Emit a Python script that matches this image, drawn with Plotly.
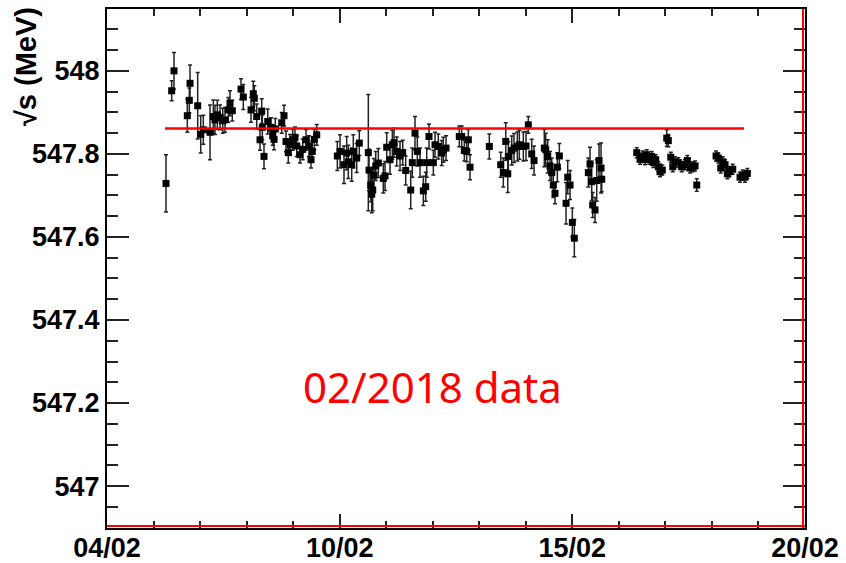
import plotly.graph_objects as go

# Run time axis (days from start of the scan) and centre-of-mass energy per run
day = [
    1.268, 1.390, 1.440, 1.726, 1.769, 1.784, 1.949, 2.014, 2.070, 2.214,
    2.285, 2.321, 2.371, 2.429, 2.487, 2.536, 2.607, 2.643, 2.693, 2.880,
    2.929, 3.095, 3.144, 3.166, 3.217, 3.288, 3.325, 3.374, 3.338, 3.454,
    3.525, 3.561, 3.589, 3.617, 3.755, 3.804, 3.847, 3.896, 3.933, 3.991,
    4.040, 4.077, 4.148, 4.206, 4.277, 4.341, 4.384, 4.412, 4.455, 4.507,
    4.950, 5.008, 5.093, 5.151, 5.186, 5.259, 5.293, 5.366, 5.422, 5.616,
    5.631, 5.667, 5.689, 5.710, 5.738, 5.775, 5.831, 5.938, 5.975, 6.011,
    6.082, 6.132, 6.168, 6.226, 6.297, 6.355, 6.419, 6.527, 6.561, 6.619,
    6.669, 6.727, 6.798, 6.849, 6.871, 6.920, 7.013, 7.049, 7.120, 7.193,
    7.228, 7.286, 7.571, 7.623, 7.679, 7.730, 7.765, 7.801, 8.216, 8.461,
    8.517, 8.569, 8.612, 8.625, 8.698, 8.747, 8.818, 8.861, 8.947, 9.005,
    9.054, 9.127, 9.177, 9.398, 9.428, 9.471, 9.521, 9.557, 9.592, 9.628,
    9.678, 9.721, 9.865, 9.901, 9.951, 10.000, 10.043, 10.344, 10.380, 10.417,
    10.438, 10.488, 10.524, 10.574, 10.617, 10.632,
    11.384, 11.455, 11.513, 11.563, 11.599, 11.655, 11.706, 11.741, 11.792, 11.848,
    11.885, 11.934, 12.029, 12.063, 12.115, 12.158, 12.207, 12.278, 12.351, 12.422,
    12.472, 12.530, 12.588, 12.637, 12.674, 13.089, 13.138, 13.189, 13.232, 13.282,
    13.331, 13.374, 13.447, 13.604, 13.662, 13.711, 13.761,
]

sqrt_s = [
    547.729, 547.952, 548.000, 547.892, 547.929, 547.970, 547.916, 547.847, 547.858, 547.852,
    547.890, 547.882, 547.894, 547.888, 547.880, 547.882, 547.906, 547.922, 547.904, 547.956,
    547.937, 547.906, 547.945, 547.934, 547.890, 547.834, 547.903, 547.794, 547.864, 547.878,
    547.862, 547.846, 547.835, 547.860, 547.875, 547.892, 547.830, 547.803, 547.822, 547.834,
    547.840, 547.819, 547.798, 547.811, 547.834, 547.819, 547.786, 547.806, 547.835, 547.846,
    547.795, 547.806, 547.774, 547.802, 547.781, 547.774, 547.806, 547.790, 547.826, 547.803,
    547.761, 547.725, 547.703, 547.713, 547.749, 547.771, 547.778, 547.741, 547.747, 547.816,
    547.786, 547.822, 547.827, 547.806, 547.795, 547.803, 547.760, 547.713, 547.779, 547.850,
    547.806, 547.779, 547.711, 547.721, 547.779, 547.842, 547.779, 547.822, 547.818, 547.802,
    547.810, 547.814, 547.842, 547.842, 547.808, 547.806, 547.834, 547.768, 547.818, 547.774,
    547.755, 547.830, 547.752, 547.794, 547.808, 547.814, 547.818, 547.822, 547.818, 547.819,
    547.870, 547.800, 547.784, 547.814, 547.810, 547.794, 547.771, 547.755, 547.725, 547.705,
    547.768, 547.795, 547.681, 547.744, 547.725, 547.635, 547.597, 547.755, 547.776, 547.733,
    547.677, 547.665, 547.736, 547.784, 547.766, 547.739,
    547.803, 547.787, 547.795, 547.786, 547.798, 547.787, 547.794, 547.779, 547.786, 547.769,
    547.757, 547.761, 547.838, 547.832, 547.792, 547.769, 547.781, 547.779, 547.769, 547.774,
    547.784, 547.766, 547.769, 547.771, 547.725, 547.795, 547.790, 547.766, 547.781, 547.774,
    547.752, 547.757, 547.763, 547.744, 547.749, 547.744, 547.753,
]

sqrt_s_err = [
    0.069, 0.024, 0.044, 0.040, 0.030, 0.044, 0.080, 0.045, 0.035, 0.066,
    0.040, 0.035, 0.035, 0.030, 0.030, 0.030, 0.030, 0.030, 0.025, 0.025,
    0.030, 0.030, 0.030, 0.030, 0.030, 0.025, 0.030, 0.030, 0.030, 0.030,
    0.025, 0.025, 0.025, 0.025, 0.025, 0.025, 0.025, 0.025, 0.025, 0.025,
    0.025, 0.025, 0.020, 0.025, 0.025, 0.025, 0.020, 0.025, 0.025, 0.025,
    0.035, 0.040, 0.045, 0.040, 0.040, 0.040, 0.040, 0.035, 0.030, 0.140,
    0.050, 0.040, 0.045, 0.050, 0.040, 0.035, 0.035, 0.035, 0.035, 0.035,
    0.035, 0.035, 0.035, 0.035, 0.035, 0.030, 0.035, 0.045, 0.035, 0.040,
    0.035, 0.035, 0.035, 0.035, 0.035, 0.030, 0.030, 0.030, 0.030, 0.030,
    0.030, 0.030, 0.025, 0.025, 0.025, 0.025, 0.025, 0.030, 0.030, 0.030,
    0.035, 0.045, 0.045, 0.035, 0.035, 0.035, 0.035, 0.035, 0.035, 0.035,
    0.020, 0.035, 0.035, 0.045, 0.040, 0.040, 0.035, 0.035, 0.030, 0.025,
    0.035, 0.030, 0.050, 0.040, 0.035, 0.035, 0.045, 0.035, 0.040, 0.045,
    0.030, 0.030, 0.050, 0.040, 0.060, 0.030,
    0.012, 0.012, 0.012, 0.012, 0.012, 0.012, 0.012, 0.012, 0.012, 0.012,
    0.012, 0.012, 0.020, 0.015, 0.012, 0.012, 0.012, 0.012, 0.012, 0.012,
    0.012, 0.012, 0.012, 0.012, 0.015, 0.012, 0.012, 0.012, 0.012, 0.012,
    0.012, 0.012, 0.012, 0.012, 0.012, 0.012, 0.012,
]

# Reference energy line
ref_energy = 547.861
ref_start, ref_end = 1.246, 13.69

# Axis labels
x_tickvals = [0, 5, 10, 15]
x_ticktext = ["<b>04/02</b>", "<b>10/02</b>", "<b>15/02</b>", "<b>20/02</b>"]
y_tickvals = [547.0, 547.2, 547.4, 547.6, 547.8, 548.0]
y_ticktext = ["<b>547</b>", "<b>547.2</b>", "<b>547.4</b>", "<b>547.6</b>",
              "<b>547.8</b>", "<b>548</b>"]

x_range = [0, 15]
y_range = [546.899, 548.149]

fig = go.Figure()

fig.add_trace(go.Scatter(
    x=day, y=sqrt_s, mode="markers",
    marker=dict(symbol="square", size=7, color="black", line=dict(width=0)),
    error_y=dict(type="data", array=sqrt_s_err, visible=True,
                 color="#222222", thickness=1.5, width=2),
    showlegend=False, hoverinfo="x+y",
))

fig.add_trace(go.Scatter(
    x=[ref_start, ref_end], y=[ref_energy, ref_energy], mode="lines",
    line=dict(color="#ff0000", width=2.5), showlegend=False, hoverinfo="skip",
))

# Red frame edges along the bottom and right
fig.add_shape(type="line", xref="x", yref="y", x0=x_range[0], x1=x_range[1],
              ysizemode="pixel", yanchor=y_range[0], y0=2, y1=2,
              line=dict(color="#ff0000", width=2), layer="above")
fig.add_shape(type="line", xref="x", yref="y", y0=y_range[0], y1=y_range[1],
              xsizemode="pixel", xanchor=x_range[1], x0=-2, x1=-2,
              line=dict(color="#ff0000", width=2), layer="above")

fig.add_annotation(
    x=7.0, y=547.24, xref="x", yref="y", text="02/2018 data", showarrow=False,
    font=dict(family="Noto Sans", size=42, color="#ff0000"),
    xanchor="center", yanchor="middle",
)

# Y-axis title, right-aligned to the top of the frame
fig.add_annotation(
    x=-0.115, y=1.008, xref="paper", yref="paper", text="<b>√s (MeV)</b>",
    showarrow=False, textangle=-90, xanchor="center", yanchor="top",
    font=dict(family="Liberation Sans", size=29, color="black"),
)

axis_font = dict(family="Liberation Sans", size=27, color="black")

fig.update_xaxes(
    range=x_range, tickmode="array", tickvals=x_tickvals, ticktext=x_ticktext,
    ticks="inside", ticklen=14, tickwidth=2, tickcolor="#222222",
    minor=dict(dtick=1, ticks="inside", ticklen=7, tickwidth=2, tickcolor="#222222"),
    showline=True, linewidth=2, linecolor="black", mirror="ticks",
    showgrid=False, zeroline=False, tickfont=axis_font, automargin=False,
    ticklabelstandoff=-5,
)
fig.update_yaxes(
    range=y_range, tickmode="array", tickvals=y_tickvals, ticktext=y_ticktext,
    ticks="inside", ticklen=22, tickwidth=2, tickcolor="#222222",
    minor=dict(dtick=0.05, tick0=547.0, ticks="inside", ticklen=11, tickwidth=2,
               tickcolor="#222222"),
    showline=True, linewidth=2, linecolor="black", mirror="ticks",
    showgrid=False, zeroline=False, tickfont=axis_font, automargin=False,
)

fig.update_layout(
    width=846, height=563,
    margin=dict(l=107, r=41, t=9, b=35),
    paper_bgcolor="white", plot_bgcolor="white",
)

fig.write_html("out.html")
